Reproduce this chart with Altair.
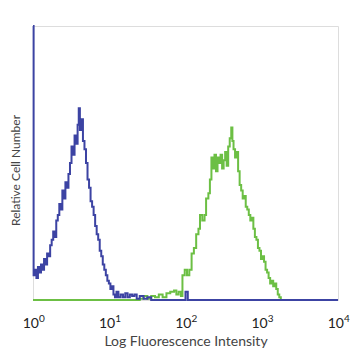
import altair as alt
import pandas as pd

# Blue histogram (control): log10 intensity, relative count
blue_log = [0.000, 0.008, 0.025, 0.045, 0.065, 0.085, 0.105, 0.125, 0.145, 0.165,
            0.185, 0.205, 0.225, 0.245, 0.265, 0.285, 0.305, 0.325, 0.345, 0.365,
            0.385, 0.405, 0.425, 0.445, 0.465, 0.485, 0.505, 0.525, 0.545, 0.565,
            0.585, 0.600, 0.615, 0.635, 0.655, 0.675, 0.695, 0.715, 0.735, 0.755,
            0.775, 0.795, 0.815, 0.835, 0.855, 0.875, 0.895, 0.915, 0.935, 0.955,
            0.975, 0.995, 1.015, 1.035, 1.055, 1.075, 1.095, 1.12, 1.15, 1.18,
            1.21, 1.24, 1.27, 1.30, 1.33, 1.36, 1.40, 1.45, 1.50, 1.55,
            2.00, 2.03, 4.00]
blue_cnt = [100, 9, 11, 8, 12, 10, 13, 11, 15, 13,
            17, 16, 20, 22, 25, 23, 29, 31, 35, 33,
            40, 37, 43, 41, 46, 50, 56, 53, 60, 57,
            64, 70, 62, 66, 58, 55, 50, 44, 41, 36,
            34, 31, 27, 24, 22, 18, 16, 13, 11, 9,
            7, 6, 4, 5, 2, 1, 3, 1, 2, 1,
            2.5, 1, 2, 1.5, 2, 0.5, 1.5, 0.5, 1, 0,
            3, 0, 0]

# Green histogram (stained)
green_log = [0.00, 1.40, 1.45, 1.50, 1.55, 1.60, 1.65, 1.70, 1.75, 1.80,
             1.85, 1.88, 1.91, 1.94, 1.96, 1.99, 2.02, 2.05, 2.08, 2.11,
             2.14, 2.17, 2.19, 2.22, 2.25, 2.27, 2.30, 2.32, 2.34, 2.36,
             2.38, 2.40, 2.42, 2.44, 2.46, 2.48, 2.50, 2.52, 2.54, 2.56,
             2.58, 2.60, 2.615, 2.63, 2.65, 2.67, 2.69, 2.71, 2.73, 2.75,
             2.77, 2.79, 2.81, 2.83, 2.85, 2.87, 2.89, 2.91, 2.93, 2.95,
             2.97, 2.99, 3.01, 3.03, 3.05, 3.07, 3.09, 3.11, 3.13, 3.15,
             3.17, 3.19, 3.21, 3.23, 3.25, 4.00]
green_cnt = [0, 0.5, 1.5, 0.5, 1.5, 1, 2, 1, 2.5, 3,
             3.5, 2, 3, 1.5, 9, 11, 9, 11, 17, 19,
             24, 26, 31, 29, 31, 37, 39, 44, 52, 48,
             53, 47, 52, 50, 53, 48, 51, 54, 49, 56,
             59, 63, 58, 55, 52, 54, 47, 42, 40, 37,
             38, 34, 33, 31, 29, 30, 26, 23, 22, 19,
             18, 15, 16, 14, 11, 10, 8, 6, 7, 5,
             6, 4, 2, 1, 0, 0]

tick_values = [1, 10, 100, 1000, 10000]
tick_base = ["10", "10", "10", "10", "10"]
tick_exponents = ["0", "1", "2", "3", "4"]

df = pd.concat([
    pd.DataFrame({"x": [10 ** v for v in green_log], "y": green_cnt, "s": "green"}),
    pd.DataFrame({"x": [10 ** v for v in blue_log], "y": blue_cnt, "s": "blue"}),
], ignore_index=True)
ticks_df = pd.DataFrame({"x": tick_values, "b": tick_base, "e": tick_exponents})

xscale = alt.Scale(type="log", domain=[1, 10000], nice=False)

x = alt.X("x:Q", scale=xscale,
          axis=alt.Axis(values=tick_values, labels=False, title="Log Fluorescence Intensity",
                        grid=False, ticks=False, domain=False, titleFontSize=14,
                        titleFontWeight="normal", titleColor="#444", titleY=45,
                        titleBaseline="alphabetic"))
y = alt.Y("y:Q", scale=alt.Scale(domain=[0, 100], nice=False, zero=True),
          axis=alt.Axis(labels=False, ticks=False, domain=False, grid=False,
                        title="Relative Cell Number", titleFontSize=12, titleFontWeight="normal",
                        titleColor="#444", titlePadding=11, titleY=144))

lines = alt.Chart(df).mark_line(interpolate="step-after", strokeWidth=2).encode(
    x=x, y=y,
    color=alt.Color("s:N", scale=alt.Scale(domain=["green", "blue"], range=["#6cbf44", "#3c43a3"]),
                    legend=None),
    detail="s:N",
    order=alt.Order("x:Q"),
)

bases = alt.Chart(ticks_df).mark_text(align="right", baseline="alphabetic", fontSize=14,
                                      color="#222", dx=6).encode(
    x=alt.X("x:Q", scale=xscale),
    y=alt.value(302),
    text="b:N",
)

exps = alt.Chart(ticks_df).mark_text(align="left", baseline="alphabetic", fontSize=10,
                                     color="#222", dx=6).encode(
    x=alt.X("x:Q", scale=xscale),
    y=alt.value(296),
    text="e:N",
)

chart = alt.layer(lines, bases, exps).properties(
    width=305, height=274,
    autosize=alt.AutoSizeParams(type="none"),
    padding={"left": 25, "top": 18, "right": 12, "bottom": 50},
).configure_view(stroke="#a0a0a0", strokeWidth=1.5).configure(font="Lato")

chart.save("out.html", embed_options={"renderer": "svg", "actions": False})
